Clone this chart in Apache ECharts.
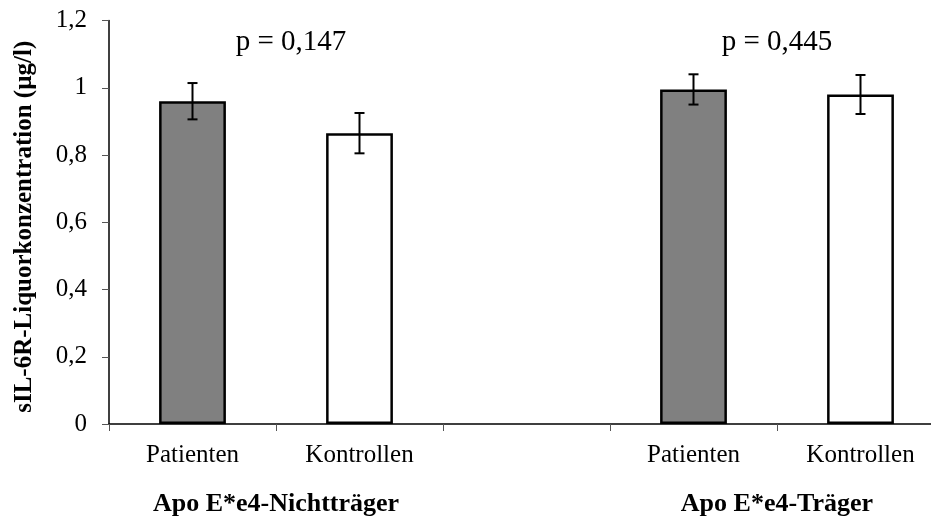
<!DOCTYPE html>
<html>
<head>
<meta charset="utf-8">
<title>sIL-6R-Liquorkonzentration</title>
<script src="https://cdn.jsdelivr.net/npm/echarts@6/dist/echarts.min.js"></script>
<style>
  html, body { margin: 0; padding: 0; background: #fff; }
  #chart { width: 931px; height: 520px; }
</style>
</head>
<body>
<div id="chart"></div>
<script>
// Categories along the x axis (the third slot is the gap between the two groups)
const categories = ['Patienten', 'Kontrollen', '', 'Patienten', 'Kontrollen'];
// Mean sIL-6R concentration (µg/l) per category
const means = [0.96, 0.865, null, 0.995, 0.98];
// Error (± half-length of the error bar) per category
const errors = [0.054, 0.06, null, 0.045, 0.058];
// Which bars are patients (grey) vs controls (white)
const isPatient = [true, false, false, true, false];
// Group captions below the axis, and the p values above each pair
const groupNames = ['Apo E*e4-Nichtträger', 'Apo E*e4-Träger'];
const pLabels = ['p = 0,147', 'p = 0,445'];
// y axis ticks
const yTicks = [0, 0.2, 0.4, 0.6, 0.8, 1, 1.2];

const SERIF = "'Liberation Serif', 'Times New Roman', serif";
const PATIENT_COLOR = '#808080';
const CONTROL_COLOR = '#ffffff';
// which category pairs form each group (boundary between the pair's two categories)
const groupPairs = [[0, 1], [3, 4]];
// small horizontal nudge for the p labels (px)
const pLabelShift = [15, 0];

const chart = echarts.init(document.getElementById('chart'), null, { renderer: 'canvas' });

const barData = means.map((v, i) => ({
  value: v,
  itemStyle: { color: isPatient[i] ? PATIENT_COLOR : CONTROL_COLOR }
}));

const errData = means
  .map((v, i) => (v == null ? null : [i, v - errors[i], v + errors[i]]))
  .filter(d => d !== null);

const option = {
  animation: false,
  backgroundColor: '#ffffff',
  // the plot runs a little past the right edge of the canvas, so the last slot is cut off
  grid: {
    left: 109, top: 20.5, width: 835, height: 403.5,
    containLabel: false,
    outerBoundsMode: 'none'
  },
  xAxis: {
    type: 'category',
    data: categories,
    boundaryGap: true,
    axisLine: { show: true, lineStyle: { color: '#000', width: 1.5 } },
    axisTick: { show: true, interval: 0, length: 7, lineStyle: { color: '#555', width: 1 } },
    axisLabel: {
      interval: 0,
      margin: 19,
      color: '#000',
      fontFamily: SERIF,
      fontSize: 25
    },
    splitLine: { show: false }
  },
  yAxis: {
    type: 'value',
    min: yTicks[0],
    max: yTicks[yTicks.length - 1],
    interval: 0.2,
    name: 'sIL-6R-Liquorkonzentration (µg/l)',
    nameLocation: 'middle',
    nameGap: 72,
    nameTextStyle: {
      color: '#000',
      fontFamily: SERIF,
      fontSize: 25,
      fontWeight: 'bold',
      padding: [0, 9, 0, 0]
    },
    axisLine: { show: true, lineStyle: { color: '#000', width: 1.5 } },
    axisTick: { show: true, length: 7, lineStyle: { color: '#555', width: 1 } },
    axisLabel: {
      margin: 22,
      color: '#000',
      fontFamily: SERIF,
      fontSize: 25,
      formatter: v => String(Math.round(v * 10) / 10).replace('.', ',')
    },
    splitLine: { show: false }
  },
  series: [
    {
      type: 'bar',
      data: barData,
      barWidth: '40%',
      itemStyle: { borderColor: '#000', borderWidth: 2.5 },
      z: 2
    },
    {
      type: 'custom',
      data: errData,
      z: 5,
      renderItem: function (params, api) {
        const x = api.value(0);
        const lo = api.coord([x, api.value(1)]);
        const hi = api.coord([x, api.value(2)]);
        const half = 5;
        const style = { stroke: '#000', lineWidth: 2 };
        return {
          type: 'group',
          children: [
            { type: 'line', shape: { x1: hi[0], y1: hi[1], x2: lo[0], y2: lo[1] }, style },
            { type: 'line', shape: { x1: hi[0] - half, y1: hi[1], x2: hi[0] + half, y2: hi[1] }, style },
            { type: 'line', shape: { x1: lo[0] - half, y1: lo[1], x2: lo[0] + half, y2: lo[1] }, style }
          ]
        };
      }
    }
  ]
};

chart.setOption(option);

// Group captions and p values, placed between each pair of categories
function boundaryX(pair) {
  const a = chart.convertToPixel({ xAxisIndex: 0 }, pair[0]);
  const b = chart.convertToPixel({ xAxisIndex: 0 }, pair[1]);
  return (a + b) / 2;
}

const graphics = [];
groupPairs.forEach((pair, g) => {
  const cx = boundaryX(pair);
  graphics.push({
    type: 'text',
    x: cx,
    y: 504,
    style: {
      text: groupNames[g],
      fill: '#000',
      font: 'bold 26px ' + SERIF,
      align: 'center',
      verticalAlign: 'middle'
    }
  });
  graphics.push({
    type: 'text',
    x: cx + pLabelShift[g],
    y: 42,
    style: {
      text: pLabels[g],
      fill: '#000',
      font: '29px ' + SERIF,
      align: 'center',
      verticalAlign: 'middle'
    }
  });
});

chart.setOption({ graphic: graphics });
</script>
</body>
</html>
